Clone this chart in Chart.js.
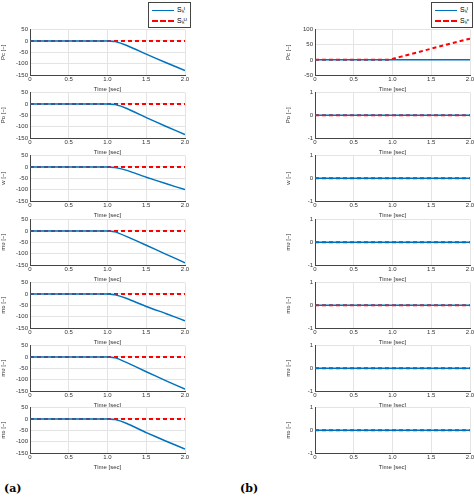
<!DOCTYPE html>
<html><head>
<script src="https://cdn.jsdelivr.net/npm/chart.js@4.4.0/dist/chart.umd.min.js"></script>
<style>
body{margin:0;background:#fff;width:474px;height:502px;position:relative;overflow:hidden;font-family:"Liberation Sans",Arial,sans-serif}
canvas{position:absolute}
.leg{position:absolute;border:1px solid #444;background:#fff;font-size:7px;padding:1px 3px;line-height:11px}
.leg span{display:inline-block;width:22px;height:0;vertical-align:middle;margin-right:3px}
.lab{position:absolute;font-family:"DejaVu Serif",serif;font-weight:bold;font-size:11px}
</style></head><body>
<div class="leg" style="left:148px;top:2px"><div><span style="border-top:1.5px solid #0072BD"></span>Sₖᴵ</div><div><span style="border-top:2px dashed #FF0000"></span>Sₖᵁ</div></div>
<div class="leg" style="left:431px;top:2px"><div><span style="border-top:1.5px solid #0072BD"></span>Sₖᴵ</div><div><span style="border-top:2px dashed #FF0000"></span>Sₖᶜ</div></div>
<div class="lab" style="left:4px;top:482px">(a)</div>
<div class="lab" style="left:240px;top:482px">(b)</div>
<script>
const time = [0, 0.5, 0.95, 1, 1.1, 1.25, 1.5, 1.75, 2];
const yLabels = ["Pᴄ [−]", "Pᴅ [−]", "w [−]", "mᴜ [−]", "mᴅ [−]", "mᴜ [−]", "mᴅ [−]"];
// left column (a): S_k^I drops after t=1, S_k^U stays at zero
const leftBlue = [
  [0, 0, 0, 0, -3, -20, -58, -95, -130],
  [0, 0, 0, 0, -3, -20, -60, -98, -135],
  [0, 0, 0, 0, -3, -15, -45, -73, -100],
  [0, 0, 0, 0, -4, -25, -63, -102, -140],
  [0, 0, 0, 0, -4, -20, -55, -86, -118],
  [0, 0, 0, 0, -4, -25, -65, -104, -142],
  [0, 0, 0, 0, -3, -20, -60, -97, -133]
];
const zeros = [0, 0, 0, 0, 0, 0, 0, 0, 0];
// right column (b): only first panel's S_k^C rises
const rightRed0 = [0, 0, 0, 3, 10, 20, 37, 54, 70];
const plotTops = [28, 91, 154, 218, 281, 344, 406];

function pts(v) { return time.map((t, i) => ({x: t, y: v[i]})); }

function panel(left, top, blue, red, yMin, yMax, yStep, label) {
  const c = document.createElement("canvas");
  c.style.left = left + "px"; c.style.top = (top - 4) + "px";
  c.style.width = "192px"; c.style.height = "69px";
  c.width = 192; c.height = 69;
  document.body.appendChild(c);
  const tick = {font: {size: 6}, color: "#333"};
  new Chart(c, {
    type: "line",
    data: {datasets: [
      {data: pts(blue), borderColor: "#0072BD", borderWidth: 1.5, pointRadius: 0, tension: 0.15},
      {data: pts(red), borderColor: "#FF0000", borderWidth: 2, borderDash: [4, 3], pointRadius: 0}
    ]},
    options: {
      responsive: false, animation: false,
      layout: {padding: {top: 4, right: 7, left: 0, bottom: 0}},
      plugins: {legend: {display: false}, tooltip: {enabled: false}},
      scales: {
        x: {type: "linear", min: 0, max: 2, ticks: {...tick, stepSize: 0.5, padding: 1},
            grid: {color: "#e4e4e4", tickLength: 0}, border: {color: "#444"},
            title: {display: true, text: "Time [sec]", font: {size: 6}, color: "#333", padding: 0},
            afterFit: s => { s.height = 18; }},
        y: {min: yMin, max: yMax, ticks: {...tick, stepSize: yStep, padding: 2},
            grid: {color: "#e4e4e4", tickLength: 0}, border: {color: "#444"},
            title: {display: true, text: label, font: {size: 6}, color: "#333", padding: 0},
            afterFit: s => { s.width = 30; }}
      }
    }
  });
}

plotTops.forEach((t, i) => {
  panel(0, t, leftBlue[i], zeros, -150, 50, 50, yLabels[i]);
  if (i === 0) panel(285, t, zeros, rightRed0, -50, 100, 50, yLabels[i]);
  else panel(285, t, zeros, zeros, -1, 1, 1, yLabels[i]);
});
</script>
</body></html>
